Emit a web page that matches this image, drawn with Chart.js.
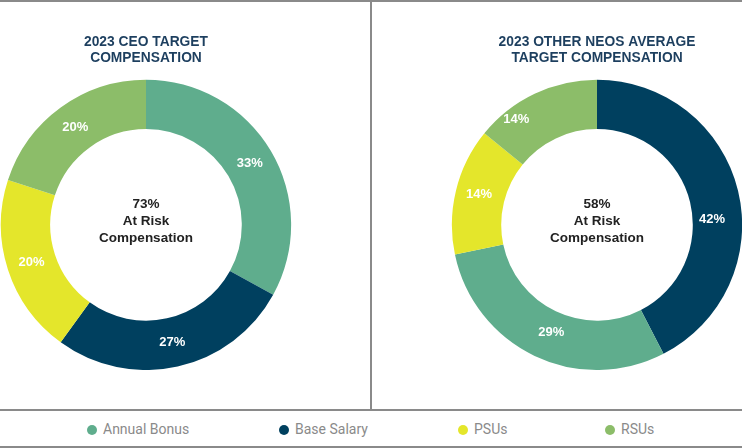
<!DOCTYPE html>
<html>
<head>
<meta charset="utf-8">
<script src="https://cdn.jsdelivr.net/npm/chart.js@4"></script>
<style>
  body { margin:0; background:#fff; font-family:"Liberation Sans", Arial, sans-serif; }
  #page { position:relative; width:742px; height:448px; overflow:hidden; }
  .box { position:absolute; top:30px; width:292px; height:340px; }
  .line { position:absolute; background:#8a8a8a; }
  #legend { position:absolute; top:419px; left:0; width:742px; height:20px; font-family:Roboto, sans-serif; font-size:14px; color:#8a8a8a; }
  #legend span.item { position:absolute; top:0; line-height:20px; white-space:nowrap; }
  #legend i { display:inline-block; width:10px; height:10px; border-radius:50%; margin-right:6px; vertical-align:-1px; }
</style>
</head>
<body>
<div id="page">
  <div class="line" style="left:0;top:0;width:742px;height:2px"></div>
  <div class="line" style="left:370px;top:0;width:1.5px;height:411px"></div>
  <div class="line" style="left:0;top:409px;width:742px;height:1.5px"></div>
  <div class="line" style="left:0;top:446px;width:742px;height:2px"></div>
  <div class="box" style="left:0"><canvas id="ceo"></canvas></div>
  <div class="box" style="left:450.5px"><canvas id="neos"></canvas></div>
  <div id="legend"></div>
</div>
<script>
// data
const ceo_labels = ['Annual Bonus','Base Salary','PSUs','RSUs'];
const ceo_values = [33, 27, 20, 20];
const neo_labels = ['Base Salary','Annual Bonus','PSUs','RSUs'];
const neo_values = [42, 29, 14, 14];
const legend_labels = ['Annual Bonus','Base Salary','PSUs','RSUs'];
const colors = {'Annual Bonus':'#5fad8d','Base Salary':'#00405f','PSUs':'#e4e62b','RSUs':'#8cbd69'};

const labelPlugin = {
  id: 'pctLabels',
  afterDatasetsDraw(chart, args, opts) {
    const ctx = chart.ctx;
    const meta = chart.getDatasetMeta(0);
    const nudge = opts.nudge || [];
    ctx.save();
    ctx.textAlign = 'center';
    ctx.textBaseline = 'middle';
    ctx.fillStyle = '#ffffff';
    ctx.font = 'bold 13px "Liberation Sans", Arial, sans-serif';
    meta.data.forEach((arc, i) => {
      const p = arc.tooltipPosition();
      const n = nudge[i] || [0, 0];
      ctx.fillText(chart.data.datasets[0].data[i] + '%', p.x + n[0], p.y + n[1]);
    });
    const a = meta.data[0];
    ctx.fillStyle = '#222222';
    ctx.font = 'bold 13.5px "Liberation Sans", Arial, sans-serif';
    (opts.center || []).forEach((t, i) => {
      ctx.fillText(t, a.x, a.y - 21 + i * 17);
    });
    ctx.restore();
  }
};

function donut(id, labels, values, title, center, nudge) {
  return new Chart(document.getElementById(id), {
    type: 'doughnut',
    data: {
      labels: labels,
      datasets: [{ data: values, backgroundColor: labels.map(l => colors[l]), borderWidth: 0 }]
    },
    options: {
      responsive: true,
      maintainAspectRatio: false,
      animation: false,
      cutout: '66%',
      layout: { padding: 0 },
      plugins: {
        legend: { display: false },
        tooltip: { enabled: false },
        title: {
          display: true,
          text: title,
          color: '#1d3f5f',
          font: { family: '"Liberation Sans", Arial, sans-serif', size: 13.8, weight: 'bold', lineHeight: 1.15 },
          padding: { top: 4, bottom: 14 }
        },
        pctLabels: { center: center, nudge: nudge }
      }
    },
    plugins: [labelPlugin]
  });
}

donut('ceo', ceo_labels, ceo_values, ['2023 CEO TARGET','COMPENSATION'], ['73%','At Risk','Compensation'], []);
// labels on the right chart sit off the arc middle in the original
donut('neos', neo_labels, neo_values, ['2023 OTHER NEOS AVERAGE','TARGET COMPENSATION'], ['58%','At Risk','Compensation'],
      [[-2, 23], [6, -1], [-1, -2], [-29, 3]]);

const legX = [87, 279, 458, 605];
const leg = document.getElementById('legend');
legend_labels.forEach((l, i) => {
  const s = document.createElement('span');
  s.className = 'item';
  s.style.left = legX[i] + 'px';
  s.innerHTML = '<i style="background:' + colors[l] + '"></i>' + l;
  leg.appendChild(s);
});
</script>
</body>
</html>
